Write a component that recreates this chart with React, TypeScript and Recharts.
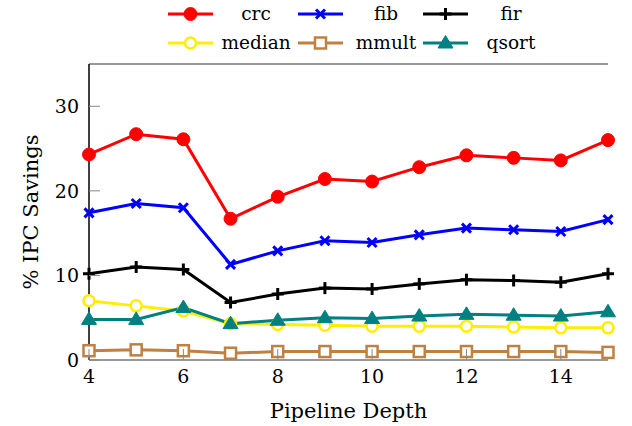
import React from 'react';
import {
  LineChart,
  Line,
  XAxis,
  YAxis,
} from 'recharts';

const depths = [4, 5, 6, 7, 8, 9, 10, 11, 12, 13, 14, 15];
const crc = [24.3, 26.7, 26.1, 16.7, 19.3, 21.4, 21.1, 22.8, 24.2, 23.9, 23.6, 26.0];
const fib = [17.4, 18.5, 18.0, 11.3, 12.9, 14.1, 13.9, 14.8, 15.6, 15.4, 15.2, 16.6];
const fir = [10.2, 11.0, 10.7, 6.8, 7.8, 8.5, 8.4, 9.0, 9.5, 9.4, 9.2, 10.2];
const median = [7.0, 6.4, 5.8, 4.3, 4.2, 4.1, 4.0, 4.0, 4.0, 3.9, 3.8, 3.8];
const mmult = [1.1, 1.2, 1.1, 0.8, 1.0, 1.0, 1.0, 1.0, 1.0, 1.0, 1.0, 0.9];
const qsort = [4.8, 4.8, 6.2, 4.3, 4.7, 5.0, 4.9, 5.2, 5.4, 5.3, 5.2, 5.7];

const xTicks = [4, 6, 8, 10, 12, 14];
const yTicks = [0, 10, 20, 30];

const FONT = "'DejaVu Serif', serif";
const TICK_SIZE = 19;
const LABEL_SIZE = 21;
const LEGEND_SIZE = 18.5;

const data = depths.map((d, i) => ({
  depth: d,
  crc: crc[i],
  fib: fib[i],
  fir: fir[i],
  median: median[i],
  mmult: mmult[i],
  qsort: qsort[i],
}));

type MarkKind = 'circle' | 'x' | 'plus' | 'ocircle' | 'square' | 'triangle';

function Mark({ kind, cx, cy, color }: { kind: MarkKind; cx: number; cy: number; color: string }) {
  switch (kind) {
    case 'circle':
      return <circle cx={cx} cy={cy} r={6.5} fill={color} stroke={color} />;
    case 'x':
      return (
        <g stroke={color} strokeWidth={3}>
          <line x1={cx - 4.5} y1={cy - 4.5} x2={cx + 4.5} y2={cy + 4.5} />
          <line x1={cx - 4.5} y1={cy + 4.5} x2={cx + 4.5} y2={cy - 4.5} />
        </g>
      );
    case 'plus':
      return (
        <g stroke={color} strokeWidth={3}>
          <line x1={cx - 6} y1={cy} x2={cx + 6} y2={cy} />
          <line x1={cx} y1={cy - 6} x2={cx} y2={cy + 6} />
        </g>
      );
    case 'ocircle':
      return <circle cx={cx} cy={cy} r={5.5} fill="#fff" stroke={color} strokeWidth={2.5} />;
    case 'square':
      return (
        <rect x={cx - 5.5} y={cy - 5.5} width={11} height={11} fill="#fff" stroke={color} strokeWidth={2.5} />
      );
    case 'triangle':
      return (
        <polygon
          points={`${cx},${cy - 7.5} ${cx - 7.5},${cy + 5} ${cx + 7.5},${cy + 5}`}
          fill={color}
          stroke={color}
          strokeWidth={1}
        />
      );
  }
  return null;
}

const series: { key: string; color: string; mark: MarkKind }[] = [
  { key: 'crc', color: '#ff0000', mark: 'circle' },
  { key: 'fib', color: '#0000ff', mark: 'x' },
  { key: 'fir', color: '#000000', mark: 'plus' },
  { key: 'median', color: '#ffee00', mark: 'ocircle' },
  { key: 'mmult', color: '#bf8040', mark: 'square' },
  { key: 'qsort', color: '#008080', mark: 'triangle' },
];

// legend drawn as an overlay so it does not shrink the plot area
function ChartLegend() {
  const colX = [168, 298, 423];
  const rowY = [14, 43];
  return (
    <svg width={632} height={60} style={{ position: 'absolute', left: 0, top: 0 }}>
      {series.map((s, i) => {
        const x0 = colX[i % 3];
        const y = rowY[Math.floor(i / 3)];
        return (
          <g key={s.key}>
            <line x1={x0} y1={y} x2={x0 + 45} y2={y} stroke={s.color} strokeWidth={3} />
            <Mark kind={s.mark} cx={x0 + 22.5} cy={y} color={s.color} />
            <text x={x0 + 88} y={y + 6} textAnchor="middle" fontFamily={FONT} fontSize={LEGEND_SIZE} fill="#000">
              {s.key}
            </text>
          </g>
        );
      })}
    </svg>
  );
}

const LeftTick = (props: any) => {
  const { x, y, payload } = props;
  const axisX = x + 10;
  return (
    <g>
      <line x1={axisX} y1={y} x2={axisX + 11} y2={y} stroke="#888" strokeWidth={1} />
      <text x={x} y={y + 7} textAnchor="end" fontFamily={FONT} fontSize={TICK_SIZE} fill="#000">
        {payload.value}
      </text>
    </g>
  );
};

const RightTick = (props: any) => {
  const { x, y } = props;
  return <line x1={x} y1={y} x2={x - 11} y2={y} stroke="#888" strokeWidth={1} />;
};

const BottomTick = (props: any) => {
  const { x, y, payload } = props;
  const axisY = y - 6;
  return (
    <g>
      <line x1={x} y1={axisY} x2={x} y2={axisY - 11} stroke="#888" strokeWidth={1} />
      <text x={x} y={y + 17} textAnchor="middle" fontFamily={FONT} fontSize={TICK_SIZE} fill="#000">
        {payload.value}
      </text>
    </g>
  );
};

export default function App() {
  return (
    <div
      style={{
        position: 'absolute',
        left: 0,
        top: 0,
        width: 632,
        height: 426,
        background: '#fff',
        fontFamily: FONT,
      }}
    >
      <LineChart
        width={632}
        height={426}
        data={data}
        margin={{ top: 63, right: 24, bottom: 0, left: 19 }}
      >
        <XAxis
          xAxisId="bottom"
          dataKey="depth"
          type="number"
          domain={[4, 15]}
          ticks={xTicks}
          tickLine={false}
          tickSize={0}
          tickMargin={6}
          tick={<BottomTick />}
          axisLine={{ stroke: '#777', strokeWidth: 1.5 }}
          height={66}
          label={{
            value: 'Pipeline Depth',
            position: 'insideBottom',
            offset: 8,
            fontFamily: FONT,
            fontSize: LABEL_SIZE,
            fill: '#000',
          }}
        />
        <XAxis
          xAxisId="top"
          orientation="top"
          dataKey="depth"
          type="number"
          domain={[4, 15]}
          ticks={xTicks}
          tick={false}
          tickLine={false}
          axisLine={{ stroke: '#777', strokeWidth: 1.5 }}
          height={1}
        />
        <YAxis
          yAxisId="left"
          type="number"
          domain={[0, 35]}
          ticks={yTicks}
          tickLine={false}
          tickSize={0}
          tickMargin={10}
          tick={<LeftTick />}
          axisLine={{ stroke: '#000', strokeWidth: 1.5 }}
          width={70}
          label={{
            value: '% IPC Savings',
            angle: -90,
            position: 'insideLeft',
            offset: 12,
            fontFamily: FONT,
            fontSize: LABEL_SIZE,
            fill: '#000',
            style: { textAnchor: 'middle' },
          }}
        />
        <YAxis
          yAxisId="right"
          orientation="right"
          type="number"
          domain={[0, 35]}
          ticks={yTicks}
          tickLine={false}
          tickSize={0}
          tick={<RightTick />}
          axisLine={{ stroke: '#333', strokeWidth: 1.5 }}
          width={0}
        />
        {series.map((s) => (
          <Line
            key={s.key}
            xAxisId="bottom"
            yAxisId="left"
            dataKey={s.key}
            stroke={s.color}
            strokeWidth={3}
            isAnimationActive={false}
            dot={(p: any) => <Mark key={`${s.key}-${p.index}`} kind={s.mark} cx={p.cx} cy={p.cy} color={s.color} />}
            activeDot={false}
          />
        ))}
      </LineChart>
      <ChartLegend />
    </div>
  );
}
